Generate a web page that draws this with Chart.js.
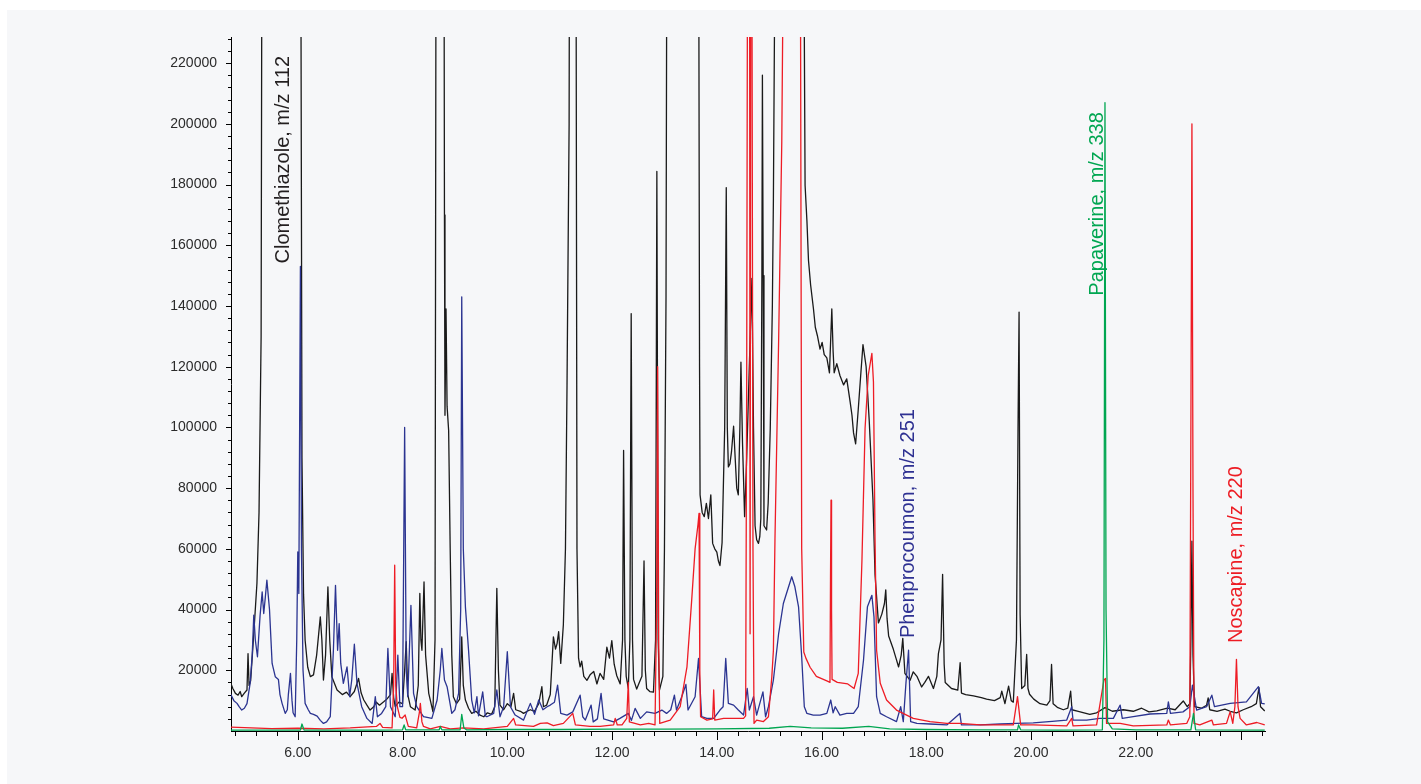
<!DOCTYPE html>
<html>
<head>
<meta charset="utf-8">
<title>Chromatogram</title>
<script src="https://cdn.jsdelivr.net/npm/chart.js@4.4.1/dist/chart.umd.min.js"></script>
<style>
    body { margin: 0; background: #ffffff; }
    #panel { position: absolute; left: 7px; top: 10px; width: 1414px; height: 774px; background: #f6f7f9; }
</style>
</head>
<body>
<div id="panel"><canvas id="chromChart" width="1414" height="774"></canvas></div>
<script>
// Retention time (min) / abundance pairs
const blackTrace = [[4.71,16200],[4.76,14000],[4.81,12400],[4.86,11800],[4.9,13000],[4.93,11300],[4.98,12500],[5.03,13500],[5.05,25500],[5.07,15000],[5.1,16500],[5.16,32100],[5.22,48600],[5.26,72000],[5.3,130000],[5.33,400000],[5.6,600000],[6.04,400000],[6.08,90000],[6.11,45000],[6.14,29900],[6.19,21000],[6.24,17900],[6.3,18500],[6.36,25000],[6.43,37600],[6.46,30000],[6.49,16800],[6.53,25000],[6.575,47500],[6.61,30000],[6.65,17900],[6.75,13500],[6.85,12000],[6.93,12800],[7.0,11300],[7.08,13000],[7.16,17300],[7.21,12500],[7.26,10200],[7.32,8500],[7.38,6900],[7.45,8000],[7.5,9500],[7.56,8500],[7.64,9600],[7.7,10500],[7.77,12000],[7.8,19000],[7.83,11000],[7.86,8000],[7.93,9500],[8.0,9000],[8.04,20000],[8.07,29400],[8.1,12000],[8.15,8000],[8.24,6900],[8.3,15000],[8.33,45300],[8.35,30000],[8.37,26600],[8.41,49100],[8.44,25000],[8.5,12400],[8.58,6350],[8.62,30000],[8.65,400000],[8.72,600000],[8.78,400000],[8.8,170000],[8.81,104000],[8.83,139000],[8.85,107000],[8.88,99000],[8.91,59500],[8.94,25000],[8.97,11300],[9.03,9000],[9.09,10500],[9.13,31000],[9.16,15000],[9.2,10200],[9.26,7500],[9.32,5800],[9.4,6500],[9.48,5200],[9.55,4700],[9.62,6000],[9.7,5500],[9.76,8000],[9.8,47000],[9.83,20000],[9.86,8500],[9.93,7000],[10.0,9000],[10.07,8000],[10.12,12400],[10.16,7000],[10.25,6500],[10.31,5800],[10.38,6500],[10.44,7000],[10.52,6500],[10.6,9000],[10.66,14600],[10.69,8000],[10.75,8500],[10.82,12000],[10.88,31000],[10.92,27000],[10.95,28800],[10.98,32700],[11.02,22250],[11.07,35000],[11.11,60000],[11.14,114000],[11.18,200000],[11.2,400000],[11.25,600000],[11.3,400000],[11.33,60000],[11.36,24000],[11.39,21100],[11.42,23000],[11.46,18000],[11.52,16700],[11.58,18500],[11.65,19600],[11.71,15500],[11.77,19000],[11.84,17000],[11.9,27600],[11.95,24000],[11.995,29800],[12.04,22000],[12.09,18200],[12.155,15500],[12.2,30000],[12.22,92400],[12.245,30000],[12.27,18000],[12.31,14000],[12.34,30000],[12.365,137500],[12.39,30000],[12.41,17000],[12.47,13800],[12.52,16000],[12.57,18000],[12.61,56000],[12.635,20000],[12.66,14000],[12.72,13000],[12.79,12800],[12.83,30000],[12.855,184300],[12.88,30000],[12.905,13500],[12.97,18000],[13.0,60000],[13.03,143300],[13.05,300000],[13.3,700000],[13.65,300000],[13.67,120000],[13.68,77800],[13.72,72000],[13.76,70600],[13.8,75000],[13.84,70000],[13.885,77800],[13.92,61800],[13.96,60000],[14.0,58900],[14.03,56000],[14.06,54500],[14.1,62000],[14.15,100000],[14.18,179000],[14.2,100000],[14.22,87000],[14.25,88000],[14.28,92000],[14.32,100400],[14.35,90000],[14.38,80000],[14.41,77800],[14.44,100000],[14.46,121500],[14.49,95000],[14.53,70600],[14.57,90000],[14.62,120000],[14.67,149100],[14.7,100000],[14.73,67600],[14.76,63000],[14.795,61800],[14.82,64000],[14.84,70000],[14.86,150000],[14.87,216000],[14.885,150000],[14.9,67600],[14.95,66200],[14.98,75000],[15.02,99700],[15.06,140000],[15.08,175300],[15.1,230000],[15.12,400000],[15.4,700000],[15.64,400000],[15.67,230000],[15.685,179700],[15.72,168000],[15.75,155000],[15.79,147000],[15.845,139000],[15.88,133000],[15.92,130200],[15.97,125800],[16.01,128000],[16.05,124000],[16.1,122900],[16.15,118000],[16.195,139000],[16.22,125000],[16.24,118000],[16.29,121000],[16.35,117100],[16.42,114000],[16.48,116000],[16.545,108400],[16.58,104000],[16.61,98200],[16.65,94600],[16.7,106000],[16.75,118000],[16.79,127300],[16.85,120000],[16.91,102000],[16.98,76400],[17.02,51600],[17.085,35600],[17.15,38500],[17.2,42000],[17.225,46500],[17.25,37000],[17.28,31300],[17.37,26900],[17.42,24000],[17.47,21100],[17.52,25000],[17.55,30500],[17.59,19000],[17.69,16700],[17.75,19500],[17.82,18000],[17.91,14500],[17.97,16000],[18.04,18000],[18.135,14000],[18.2,18000],[18.23,25500],[18.28,30000],[18.31,51600],[18.34,22000],[18.36,16000],[18.48,14000],[18.6,13500],[18.645,22500],[18.67,12500],[18.75,12000],[18.9,11600],[19.05,11000],[19.15,10500],[19.3,10000],[19.41,11000],[19.44,13100],[19.5,9000],[19.57,14800],[19.62,10000],[19.66,9500],[19.72,30000],[19.75,100000],[19.77,138000],[19.79,38400],[19.82,14000],[19.88,15000],[19.915,25200],[19.94,14000],[19.97,12100],[20.05,10500],[20.17,9000],[20.3,8500],[20.36,10000],[20.39,21900],[20.42,9000],[20.5,7800],[20.615,7000],[20.7,7500],[20.755,13100],[20.78,7000],[20.9,6500],[21.12,5500],[21.25,6000],[21.41,7700],[21.55,6500],[21.76,7000],[21.95,6500],[22.11,7500],[22.25,6300],[22.4,6600],[22.6,7500],[22.75,7000],[22.905,9900],[22.98,8000],[23.03,9000],[23.05,30000],[23.07,62500],[23.09,25000],[23.12,8000],[23.25,7500],[23.35,8500],[23.38,10900],[23.41,7000],[23.55,6500],[23.7,7200],[23.8,6500],[23.92,6000],[24.05,7000],[24.2,8000],[24.3,9000],[24.35,14300],[24.38,8000],[24.46,6600]];

const blueTrace = [[4.71,12400],[4.78,10000],[4.84,9100],[4.88,8000],[4.93,6900],[4.98,7500],[5.03,9000],[5.09,15700],[5.13,25000],[5.16,38200],[5.19,29900],[5.23,24450],[5.28,38000],[5.32,45800],[5.35,38700],[5.38,44000],[5.41,49700],[5.46,40000],[5.51,22250],[5.57,17900],[5.63,17000],[5.66,12000],[5.7,9100],[5.76,5800],[5.8,7000],[5.82,12000],[5.86,19000],[5.89,10000],[5.91,6000],[5.95,4700],[5.98,29900],[6.0,59000],[6.02,45300],[6.05,153000],[6.07,60000],[6.1,20000],[6.14,9100],[6.2,7000],[6.24,5800],[6.3,5500],[6.37,4900],[6.43,3500],[6.49,2500],[6.55,3000],[6.62,4700],[6.68,26600],[6.72,48000],[6.76,26600],[6.79,35400],[6.82,22250],[6.87,15700],[6.94,21150],[6.99,11300],[7.03,16800],[7.08,28600],[7.13,15700],[7.22,8000],[7.32,4150],[7.42,2500],[7.48,11300],[7.52,4700],[7.6,5800],[7.68,8000],[7.72,27200],[7.77,8000],[7.86,4700],[7.91,25000],[7.95,8000],[8.0,8000],[8.04,100000],[8.07,20000],[8.1,11300],[8.16,41400],[8.21,12400],[8.27,8000],[8.4,4700],[8.56,4150],[8.66,10200],[8.72,20000],[8.75,27200],[8.8,16800],[8.85,14600],[8.94,5800],[9.0,7000],[9.07,12400],[9.11,40000],[9.13,143000],[9.16,60000],[9.2,40900],[9.26,26600],[9.32,10200],[9.37,6000],[9.42,11300],[9.45,5000],[9.53,12900],[9.58,5000],[9.61,4700],[9.74,5800],[9.8,13500],[9.86,4700],[9.93,8000],[10.0,26100],[10.06,8000],[10.15,5250],[10.31,3600],[10.44,9100],[10.52,5500],[10.6,10200],[10.68,7000],[10.76,8000],[10.82,8540],[10.9,9500],[10.96,15100],[11.02,5800],[11.14,5250],[11.25,6300],[11.39,11800],[11.44,4700],[11.49,3600],[11.6,8540],[11.64,3000],[11.72,4000],[11.79,12400],[11.84,4000],[12.03,3000],[12.15,4150],[12.31,5800],[12.37,3500],[12.44,7450],[12.54,4150],[12.66,6300],[12.82,5800],[12.95,6900],[13.04,5800],[13.12,7000],[13.19,11800],[13.23,6900],[13.33,11300],[13.41,15340],[13.45,6900],[13.585,11300],[13.65,23900],[13.71,4700],[13.81,4150],[13.94,4150],[14.06,6900],[14.12,8000],[14.17,23900],[14.22,9100],[14.32,8540],[14.41,6900],[14.51,5250],[14.58,14000],[14.62,6900],[14.7,11300],[14.76,5250],[14.88,12900],[14.93,4700],[14.985,8000],[15.08,16800],[15.18,32100],[15.27,42000],[15.37,47500],[15.43,50800],[15.49,47500],[15.56,40900],[15.62,24450],[15.67,8000],[15.72,5800],[15.84,5250],[15.97,5250],[16.1,5800],[16.175,10200],[16.22,6000],[16.26,8000],[16.35,5250],[16.48,5800],[16.61,5800],[16.7,8000],[16.8,23300],[16.875,40900],[16.96,44700],[17.0,37600],[17.05,11300],[17.12,5800],[17.24,4700],[17.43,3100],[17.51,8000],[17.56,3100],[17.61,15700],[17.66,26600],[17.7,3100],[17.82,2500],[18.07,2300],[18.39,2000],[18.64,5800],[18.67,2000],[19.03,2000],[19.41,2300],[19.72,2500],[20.04,2700],[20.4,3200],[20.68,3600],[20.775,8000],[20.8,3600],[21.06,3600],[21.31,4150],[21.57,4150],[21.7,8540],[21.74,4150],[21.95,4700],[22.27,5600],[22.59,5800],[22.62,9600],[22.66,5800],[22.9,6300],[23.03,8000],[23.08,15100],[23.16,6900],[23.35,8000],[23.45,11800],[23.5,8000],[23.8,9100],[24.11,9600],[24.34,14600],[24.4,9100],[24.46,8900]];

const redTrace = [[4.71,1300],[5.5,800],[6.0,900],[6.5,700],[7.0,1000],[7.5,1500],[7.57,2500],[7.62,1200],[7.8,1000],[7.83,15000],[7.85,54600],[7.87,15000],[7.9,8000],[7.95,4500],[7.99,4200],[8.05,5250],[8.11,1500],[8.27,1000],[8.32,6000],[8.34,9100],[8.37,3000],[8.4,1500],[8.53,700],[8.72,1500],[8.91,700],[9.16,1000],[9.55,700],[10.0,1500],[10.12,4150],[10.16,2000],[10.5,1500],[10.63,2500],[10.76,2700],[10.88,1800],[11.07,2500],[11.25,5800],[11.3,2000],[11.58,1500],[11.77,1500],[12.03,2000],[12.06,4150],[12.1,2000],[12.19,2000],[12.28,4150],[12.31,16000],[12.33,3000],[12.54,2000],[12.7,2500],[12.82,2000],[12.85,40000],[12.87,120000],[12.89,30000],[12.91,2500],[13.11,3600],[13.3,8000],[13.43,21150],[13.52,43100],[13.585,60000],[13.64,68000],[13.66,71700],[13.675,20000],[13.69,4700],[13.81,3600],[13.92,4000],[13.94,13500],[13.96,3600],[14.13,4150],[14.32,4150],[14.51,4150],[14.55,5000],[14.57,115000],[14.59,300000],[14.62,400000],[14.635,32000],[14.655,400000],[14.69,60000],[14.71,2500],[14.76,3600],[14.89,3100],[14.985,4700],[15.05,17900],[15.08,26600],[15.11,63300],[15.18,128800],[15.24,194200],[15.29,300000],[15.45,600000],[15.59,300000],[15.62,60000],[15.66,26000],[15.7,24000],[15.78,21000],[15.9,18000],[16.1,16500],[16.16,16000],[16.17,50000],[16.18,76000],[16.19,40000],[16.2,17000],[16.3,16000],[16.5,15500],[16.62,14000],[16.7,19000],[16.77,56000],[16.83,99700],[16.89,117100],[16.96,124400],[16.99,115000],[17.02,63300],[17.05,26600],[17.12,15700],[17.24,10200],[17.43,6900],[17.75,4150],[18.07,3100],[18.39,2500],[18.64,2500],[19.03,2000],[19.66,2000],[19.74,11300],[19.8,2000],[20.04,2000],[20.68,1700],[20.775,4150],[20.8,1700],[21.25,2000],[21.39,16800],[21.42,17300],[21.44,2500],[21.7,2500],[21.95,1700],[22.59,2000],[22.62,3600],[22.66,2000],[22.97,2500],[23.03,4700],[23.05,100000],[23.07,200000],[23.09,80000],[23.11,2500],[23.22,2000],[23.45,3600],[23.48,2000],[23.73,2500],[23.8,6350],[23.85,2500],[23.89,8000],[23.92,23600],[23.95,8000],[23.99,4150],[24.11,2000],[24.31,2800],[24.46,2000]];

const greenTrace = [[4.71,300],[5.5,300],[6.05,300],[6.08,2300],[6.12,300],[7.5,300],[8.0,400],[8.03,2000],[8.06,400],[8.7,400],[8.72,1500],[8.75,400],[9.1,400],[9.13,5500],[9.17,1000],[9.22,400],[10.0,500],[11.0,500],[12.0,600],[13.0,600],[14.0,700],[15.0,900],[15.4,1500],[15.8,1000],[16.4,900],[16.9,1500],[17.3,700],[18.0,500],[19.0,400],[19.74,400],[19.76,2000],[19.8,400],[20.5,300],[21.36,400],[21.39,30000],[21.41,207000],[21.43,40000],[21.46,3000],[21.55,700],[22.0,400],[23.05,400],[23.1,5800],[23.14,400],[24.46,300]];

// Axis ticks
const xTickValues = [6, 8, 10, 12, 14, 16, 18, 20, 22];
const xTickLabels = ['6.00', '8.00', '10.00', '12.00', '14.00', '16.00', '18.00', '20.00', '22.00'];
const yTickValues = [20000, 40000, 60000, 80000, 100000, 120000, 140000, 160000, 180000, 200000, 220000];
const yTickLabels = ['20000', '40000', '60000', '80000', '100000', '120000', '140000', '160000', '180000', '200000', '220000'];

// Compound labels: [text, time, abundance at text start, colour]
const peakLabels = [
    ['Clomethiazole, m/z 112', 5.72, 154000, '#231f20'],
    ['Phenprocoumon, m/z 251', 17.65, 30600, '#2e3192'],
    ['Papaverine, m/z 338', 21.26, 143400, '#00a651'],
    ['Noscapine, m/z 220', 23.93, 29000, '#ed1c24']
];

const FONT = "'Liberation Sans', Arial, sans-serif";

function toPoints(trace) {
    return trace.map(p => ({ x: p[0], y: p[1] }));
}

// Tick marks with major and minor lengths
const tickMarks = {
    id: 'tickMarks',
    afterDraw(chart) {
        const { ctx, chartArea, scales: { x, y } } = chart;
        ctx.save();
        ctx.strokeStyle = '#000';
        ctx.lineWidth = 1;
        ctx.beginPath();
        for (let i = 12; i <= 61; i++) {
            const v = i * 0.4;
            const px = Math.round(x.getPixelForValue(v)) + 0.5;
            const len = (i % 5 === 0) ? 9 : 5;
            ctx.moveTo(px, chartArea.bottom);
            ctx.lineTo(px, chartArea.bottom + len);
        }
        for (let i = 1; i <= 57; i++) {
            const v = i * 4000;
            const py = Math.round(y.getPixelForValue(v)) + 0.5;
            const len = (i % 5 === 0) ? 5 : 3;
            ctx.moveTo(chartArea.left, py);
            ctx.lineTo(chartArea.left - len, py);
        }
        ctx.stroke();
        ctx.restore();
    }
};

// Rotated compound names
const peakNames = {
    id: 'peakNames',
    afterDatasetsDraw(chart) {
        const { ctx, scales: { x, y } } = chart;
        ctx.save();
        ctx.font = '20px ' + FONT;
        ctx.textAlign = 'left';
        ctx.textBaseline = 'middle';
        peakLabels.forEach(([text, t, v, colour]) => {
            ctx.save();
            ctx.translate(x.getPixelForValue(t), y.getPixelForValue(v));
            ctx.rotate(-Math.PI / 2);
            ctx.fillStyle = colour;
            ctx.fillText(text, 0, 0);
            ctx.restore();
        });
        ctx.restore();
    }
};

const ctx = document.getElementById('chromChart').getContext('2d');
new Chart(ctx, {
    type: 'line',
    data: {
        datasets: [
            { label: 'Papaverine m/z 338', data: toPoints(greenTrace), borderColor: '#00a651' },
            { label: 'Noscapine m/z 220', data: toPoints(redTrace), borderColor: '#ee1c25' },
            { label: 'Phenprocoumon m/z 251', data: toPoints(blueTrace), borderColor: '#2b3491' },
            { label: 'Clomethiazole m/z 112', data: toPoints(blackTrace), borderColor: '#1a1a1a' }
        ]
    },
    options: {
        responsive: false,
        animation: false,
        parsing: false,
        elements: {
            line: { borderWidth: 1.3, tension: 0, fill: false, borderJoinStyle: 'round' },
            point: { radius: 0, hoverRadius: 0 }
        },
        layout: { padding: { top: 27, right: 156, left: 0, bottom: 0 } },
        plugins: {
            legend: { display: false },
            tooltip: { enabled: false }
        },
        scales: {
            x: {
                type: 'linear',
                min: 4.725,
                max: 24.465,
                grid: { display: true, drawOnChartArea: false, drawTicks: false },
                border: { display: true, color: '#000', width: 1 },
                afterBuildTicks: scale => { scale.ticks = xTickValues.map(v => ({ value: v })); },
                afterFit: scale => { scale.height = 53; },
                ticks: {
                    padding: 14,
                    color: '#2b2b2b',
                    font: { family: FONT, size: 14 },
                    maxRotation: 0,
                    autoSkip: false,
                    callback: value => xTickLabels[xTickValues.indexOf(value)]
                }
            },
            y: {
                type: 'linear',
                min: 0,
                max: 228600,
                grid: { display: true, drawOnChartArea: false, drawTicks: false },
                border: { display: true, color: '#000', width: 1 },
                afterBuildTicks: scale => { scale.ticks = yTickValues.map(v => ({ value: v })); },
                afterFit: scale => { scale.width = 224; },
                ticks: {
                    padding: 14,
                    color: '#2b2b2b',
                    font: { family: FONT, size: 14 },
                    autoSkip: false,
                    callback: value => yTickLabels[yTickValues.indexOf(value)]
                }
            }
        }
    },
    plugins: [tickMarks, peakNames]
});
</script>
</body>
</html>
